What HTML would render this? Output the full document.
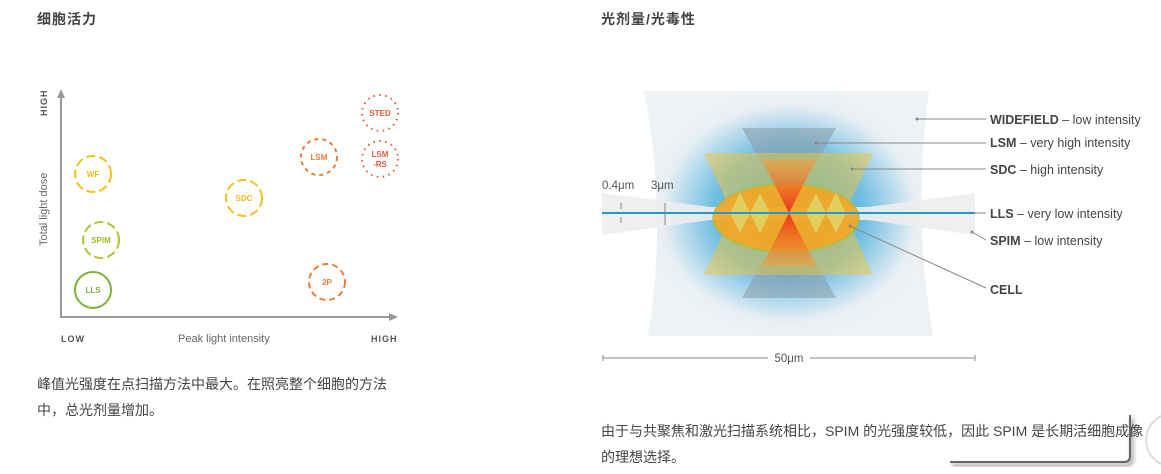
<!DOCTYPE html>
<html><head><meta charset="utf-8"><style>
body{margin:0;width:1161px;height:474px;overflow:hidden;background:#fff;font-family:"Liberation Sans","Noto Sans CJK SC",sans-serif;position:relative}
.t{position:absolute;color:#444;font-weight:bold;font-size:14px;letter-spacing:1px}
.p{position:absolute;color:#444;font-size:14px;line-height:26px;white-space:nowrap}
svg{position:absolute;left:0;top:0}
</style></head><body>
<div class="t" style="left:37px;top:9px">细胞活力</div>
<div class="t" style="left:601px;top:9px">光剂量/光毒性</div>
<div class="p" style="left:37px;top:371px">峰值光强度在点扫描方法中最大。在照亮整个细胞的方法<br>中，总光剂量增加。</div>
<div class="p" style="left:601px;top:418px">由于与共聚焦和激光扫描系统相比，SPIM 的光强度较低，因此 SPIM 是长期活细胞成像<br>的理想选择。</div>
<svg width="1161" height="474" font-family="Liberation Sans, sans-serif">
<defs>
<radialGradient id="bl" cx="789" cy="213" r="150" gradientUnits="userSpaceOnUse" gradientTransform="translate(789 213) scale(1 0.85) translate(-789 -213)">
<stop offset="0" stop-color="#2a9fd6"/><stop offset="0.5" stop-color="#6fbde2"/><stop offset="0.85" stop-color="#e8eff4"/><stop offset="1" stop-color="#eef2f5"/></radialGradient>
<linearGradient id="rt" x1="0" y1="0" x2="0" y2="1"><stop offset="0" stop-color="#f4a030" stop-opacity=".5"/><stop offset="1" stop-color="#e8351a"/></linearGradient>
<linearGradient id="rb" x1="0" y1="1" x2="0" y2="0"><stop offset="0" stop-color="#f4a030" stop-opacity=".5"/><stop offset="1" stop-color="#e8351a"/></linearGradient>
<filter id="sh"><feDropShadow dx="2" dy="3" stdDeviation="2" flood-color="#000" flood-opacity=".6"/></filter>
</defs>
<g stroke="#999" stroke-width="2" fill="none"><line x1="61" y1="96" x2="61" y2="317"/><line x1="60" y1="317" x2="392" y2="317"/></g>
<polygon points="61,89 57,98 65,98" fill="#999"/><polygon points="398,317 389,313 389,321" fill="#999"/>
<text transform="translate(47,116) rotate(-90)" font-size="9" font-weight="bold" fill="#555" letter-spacing="1">HIGH</text>
<text transform="translate(47,246) rotate(-90)" font-size="11" fill="#666">Total light dose</text>
<text x="61" y="342" font-size="9" font-weight="bold" fill="#555" letter-spacing="1">LOW</text>
<text x="178" y="342" font-size="11" fill="#666">Peak light intensity</text>
<text x="371" y="342" font-size="9" font-weight="bold" fill="#555" letter-spacing="1">HIGH</text>
<g fill="none" stroke-width="2" font-size="8" font-weight="bold" text-anchor="middle">
<circle cx="93" cy="174" r="18" stroke="#f2c01e" stroke-dasharray="9 4"/><text x="93" y="177" fill="#f2b81e" stroke="none">WF</text>
<circle cx="101" cy="240" r="18" stroke="#b5c22e" stroke-dasharray="9 4"/><text x="101" y="243" fill="#a8b82a" stroke="none">SPIM</text>
<circle cx="93" cy="290" r="18" stroke="#7ab33a"/><text x="93" y="293" fill="#7ab33a" stroke="none">LLS</text>
<circle cx="244" cy="198" r="18" stroke="#f2c01e" stroke-dasharray="9 4"/><text x="244" y="201" fill="#f2b81e" stroke="none">SDC</text>
<circle cx="319" cy="157" r="18" stroke="#f07a3a" stroke-dasharray="4 4"/><text x="319" y="160" fill="#f07a3a" stroke="none">LSM</text>
<circle cx="380" cy="113" r="18" stroke="#e85a3a" stroke-dasharray="1.5 4.5"/><text x="380" y="116" fill="#e85a3a" stroke="none">STED</text>
<circle cx="380" cy="159" r="18" stroke="#e85a3a" stroke-dasharray="1.5 4.5"/><text x="380" y="157" fill="#e85a3a" stroke="none">LSM</text><text x="380" y="167" fill="#e85a3a" stroke="none">-RS</text>
<circle cx="327" cy="282" r="18" stroke="#f07a3a" stroke-dasharray="6 4"/><text x="327" y="285" fill="#f07a3a" stroke="none">2P</text>
</g>
<path d="M648,91 L929,91 Q912,213 933,336 L648,336 Q668,213 644,91Z" fill="url(#bl)"/>
<path d="M602,193 L710,207 L868,207 L975,193 L975,235 L868,220 L710,220 L602,235Z" fill="#ededed" opacity=".9"/>
<polygon points="742,128 836,128 789,213" fill="#8a9aa8" opacity=".55"/>
<polygon points="742,298 836,298 789,213" fill="#8a9aa8" opacity=".55"/>
<polygon points="704,153 873,153 845,213 732,213" fill="#f2c63a" opacity=".5"/>
<polygon points="704,275 873,275 845,213 732,213" fill="#f2c63a" opacity=".5"/>
<ellipse cx="786" cy="218" rx="73" ry="34" fill="#f5a623" stroke="#a6c23a" stroke-width="1.5" opacity=".9"/>
<g fill="#e2d56a" opacity=".85">
<polygon points="730,213 740,193 750,213"/><polygon points="750,213 760,193 770,213"/><polygon points="806,213 816,193 826,213"/><polygon points="826,213 836,193 846,213"/>
<polygon points="730,213 740,233 750,213"/><polygon points="750,213 760,233 770,213"/><polygon points="806,213 816,233 826,213"/><polygon points="826,213 836,233 846,213"/>
</g>
<polygon points="762,160 816,160 789,213" fill="url(#rt)"/>
<polygon points="762,266 816,266 789,213" fill="url(#rb)"/>
<line x1="602" y1="213" x2="975" y2="213" stroke="#1e9bc9" stroke-width="2"/>
<g stroke="#888" stroke-width="1"><line x1="621" y1="203" x2="621" y2="209"/><line x1="621" y1="217" x2="621" y2="223"/><line x1="665" y1="203" x2="665" y2="225"/>
<line x1="603" y1="358" x2="768" y2="358"/><line x1="810" y1="358" x2="975" y2="358"/><line x1="603" y1="355" x2="603" y2="361"/><line x1="975" y1="355" x2="975" y2="361"/>
<line x1="917" y1="119" x2="986" y2="119"/><line x1="816" y1="143" x2="986" y2="143"/><line x1="852" y1="169" x2="986" y2="169"/><line x1="972" y1="213" x2="986" y2="213"/><line x1="972" y1="232" x2="986" y2="240"/><line x1="850" y1="226" x2="986" y2="288"/></g>
<g fill="#888"><circle cx="917" cy="119" r="1.5"/><circle cx="816" cy="143" r="1.5"/><circle cx="852" cy="169" r="1.5"/><circle cx="972" cy="232" r="1.5"/><circle cx="850" cy="226" r="1.5"/></g>
<g font-size="11.5" fill="#555"><text x="602" y="189">0.4μm</text><text x="651" y="189">3μm</text><text x="789" y="362" text-anchor="middle">50μm</text></g>
<g font-size="12.5" fill="#444">
<text x="990" y="124"><tspan font-weight="bold">WIDEFIELD</tspan> – low intensity</text>
<text x="990" y="147"><tspan font-weight="bold">LSM</tspan> – very high intensity</text>
<text x="990" y="174"><tspan font-weight="bold">SDC</tspan> – high intensity</text>
<text x="990" y="218"><tspan font-weight="bold">LLS</tspan> – very low intensity</text>
<text x="990" y="245"><tspan font-weight="bold">SPIM</tspan> – low intensity</text>
<text x="990" y="294" font-weight="bold">CELL</text></g>
<path d="M950,462 L1124,462 Q1130,462 1130,456 L1130,415" fill="none" stroke="#666" stroke-width="2" filter="url(#sh)"/>
<circle cx="1172" cy="440" r="26" fill="none" stroke="#ddd" stroke-width="2"/>
</svg>
</body></html>
